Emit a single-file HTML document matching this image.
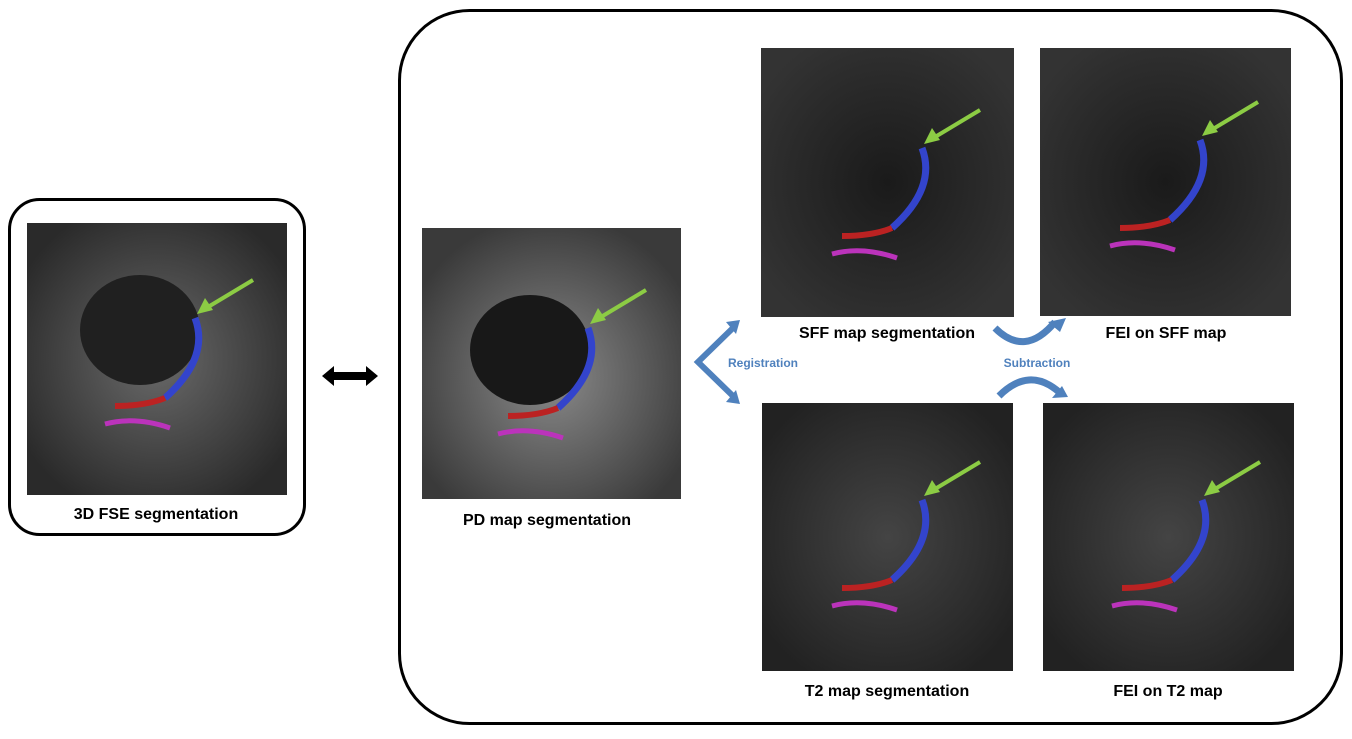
<!DOCTYPE html>
<html><head><meta charset="utf-8"><style>
html,body{margin:0;padding:0;background:#fff;}
svg text{font-family:"Liberation Sans",sans-serif;font-weight:bold;}
</style></head><body>
<svg width="1352" height="734" viewBox="0 0 1352 734" xmlns="http://www.w3.org/2000/svg">
<defs>
<radialGradient id="g1" cx="0.5" cy="0.5" r="0.6"><stop offset="0" stop-color="#6a6a6a"/><stop offset="1" stop-color="#2a2a2a"/></radialGradient>
<radialGradient id="g2" cx="0.5" cy="0.55" r="0.6"><stop offset="0" stop-color="#8a8a8a"/><stop offset="1" stop-color="#3a3a3a"/></radialGradient>
<radialGradient id="g3" cx="0.5" cy="0.5" r="0.6"><stop offset="0" stop-color="#1a1a1a"/><stop offset="1" stop-color="#333"/></radialGradient>
<radialGradient id="g4" cx="0.5" cy="0.5" r="0.6"><stop offset="0" stop-color="#444"/><stop offset="1" stop-color="#222"/></radialGradient>
<g id="seg">
<path d="M0,0 q15,40 -30,80" stroke="#3344cc" stroke-width="7" fill="none"/>
<path d="M-30,80 q-20,8 -50,8" stroke="#bb2222" stroke-width="6" fill="none"/>
<path d="M-90,106 q30,-8 65,4" stroke="#bb33bb" stroke-width="5" fill="none"/>
<line x1="8" y1="-8" x2="58" y2="-38" stroke="#8ccc44" stroke-width="4"/>
<polygon points="2,-4 18,-8 10,-20" fill="#8ccc44"/>
</g>
</defs>
<rect x="9.5" y="199.5" width="295" height="335" rx="30" fill="#fff" stroke="#000" stroke-width="3"/>
<rect x="399.5" y="10.5" width="942" height="713" rx="70" fill="#fff" stroke="#000" stroke-width="3"/>

<rect x="27" y="223" width="260" height="272" fill="url(#g1)"/>
<ellipse cx="140" cy="330" rx="60" ry="55" fill="#202020"/>
<use href="#seg" x="195" y="318"/>
<rect x="422" y="228" width="259" height="271" fill="url(#g2)"/>
<ellipse cx="530" cy="350" rx="60" ry="55" fill="#181818"/>
<use href="#seg" x="588" y="328"/>
<rect x="761" y="48" width="253" height="269" fill="url(#g3)"/>
<use href="#seg" x="922" y="148"/>
<rect x="1040" y="48" width="251" height="268" fill="url(#g3)"/>
<use href="#seg" x="1200" y="140"/>
<rect x="762" y="403" width="251" height="268" fill="url(#g4)"/>
<use href="#seg" x="922" y="500"/>
<rect x="1043" y="403" width="251" height="268" fill="url(#g4)"/>
<use href="#seg" x="1202" y="500"/>

<g fill="#000">
<polygon points="322,376 334,366 334,372 366,372 366,366 378,376 366,386 366,380 334,380 334,386"/>
</g>
<g fill="none" stroke="#4f81bd" stroke-width="6">
<polyline points="735,326 698,362 735,398"/>
</g>
<polygon points="740,320 726,322 736,334" fill="#4f81bd"/>
<polygon points="740,404 726,402 736,390" fill="#4f81bd"/>
<path d="M995,328 q30,30 60,-6" stroke="#4f81bd" stroke-width="7" fill="none"/>
<polygon points="1066,318 1048,322 1060,332" fill="#4f81bd"/>
<path d="M999,396 q30,-30 60,-4" stroke="#4f81bd" stroke-width="7" fill="none"/>
<polygon points="1068,397 1052,398 1062,386" fill="#4f81bd"/>

<g font-size="16" fill="#000" text-anchor="middle">
<text x="156" y="519">3D FSE segmentation</text>
<text x="547" y="525">PD map segmentation</text>
<text x="887" y="338">SFF map segmentation</text>
<text x="1166" y="338">FEI on SFF map</text>
<text x="887" y="696">T2 map segmentation</text>
<text x="1168" y="696">FEI on T2 map</text>
</g>
<g font-size="12" fill="#4f81bd" text-anchor="middle">
<text x="763" y="367">Registration</text>
<text x="1037" y="367">Subtraction</text>
</g>
</svg>
</body></html>
